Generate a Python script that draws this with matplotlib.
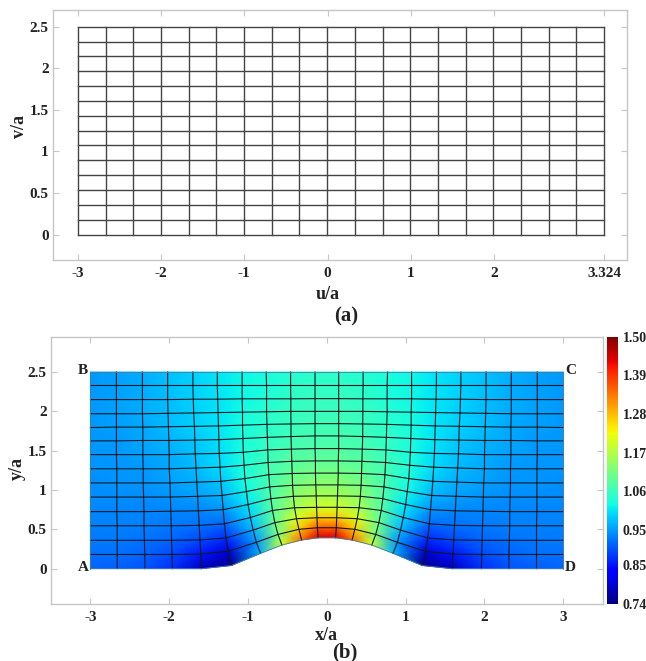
import numpy as np
import matplotlib
matplotlib.use("Agg")
import matplotlib.pyplot as plt

plt.rcParams['font.family'] = ['Liberation Serif', 'DejaVu Serif']
plt.rcParams['font.weight'] = 'bold'

W, H = 646, 661

# (a) computational grid
u_lines = [-3, -2.667, -2.334, -2.001, -1.668, -1.336, -1.003, -0.67, -0.337, -0.004,
           0.329, 0.662, 0.995, 1.327, 1.66, 1.993, 2.326, 2.659, 2.992, 3.324]
v_lines = [0, 0.179, 0.357, 0.536, 0.714, 0.893, 1.071, 1.25, 1.429, 1.607,
           1.786, 1.964, 2.143, 2.321, 2.5]
a_xticks = [-3, -2, -1, 0, 1, 2, 3.324]
a_xticklabels = ['-3', '-2', '-1', '0', '1', '2', '3.324']
yticks = [0, 0.5, 1, 1.5, 2, 2.5]
yticklabels = ['0', '0.5', '1', '1.5', '2', '2.5']

# (b) physical grid, left half (rows bottom to top, columns -3 to 0)
mesh_x = [
    [-3, -2.66, -2.31, -1.96, -1.59, -1.21, -0.84, -0.57, -0.32, -0.11],
    [-3, -2.66, -2.31, -1.965, -1.60, -1.25, -0.895, -0.62, -0.355, -0.12],
    [-3, -2.66, -2.315, -1.97, -1.61, -1.28, -0.935, -0.66, -0.385, -0.125],
    [-3, -2.66, -2.32, -1.975, -1.62, -1.30, -0.97, -0.69, -0.41, -0.13],
    [-3, -2.665, -2.32, -1.98, -1.63, -1.315, -1.0, -0.71, -0.425, -0.135],
    [-3, -2.665, -2.325, -1.985, -1.64, -1.33, -1.02, -0.725, -0.435, -0.14],
    [-3, -2.665, -2.33, -1.99, -1.65, -1.345, -1.04, -0.737, -0.44, -0.145],
    [-3, -2.665, -2.33, -2.0, -1.66, -1.355, -1.05, -0.745, -0.445, -0.145],
    [-3, -2.67, -2.335, -2.0, -1.67, -1.365, -1.06, -0.75, -0.45, -0.15],
    [-3, -2.67, -2.335, -2.005, -1.675, -1.37, -1.065, -0.755, -0.455, -0.15],
    [-3, -2.67, -2.335, -2.01, -1.68, -1.375, -1.07, -0.76, -0.455, -0.15],
    [-3, -2.67, -2.34, -2.015, -1.69, -1.38, -1.07, -0.765, -0.457, -0.15],
    [-3, -2.67, -2.34, -2.02, -1.695, -1.385, -1.075, -0.765, -0.457, -0.15],
    [-3, -2.67, -2.34, -2.02, -1.70, -1.39, -1.075, -0.765, -0.46, -0.15],
    [-3, -2.67, -2.34, -2.02, -1.70, -1.39, -1.075, -0.77, -0.46, -0.15],
]
mesh_y = [
    [0, 0, 0, 0, 0, 0.04, 0.195, 0.30, 0.364, 0.393],
    [0.18, 0.18, 0.18, 0.18, 0.185, 0.22, 0.335, 0.435, 0.50, 0.52],
    [0.36, 0.36, 0.36, 0.36, 0.365, 0.39, 0.49, 0.585, 0.635, 0.647],
    [0.545, 0.545, 0.545, 0.545, 0.55, 0.57, 0.65, 0.74, 0.775, 0.78],
    [0.725, 0.725, 0.725, 0.73, 0.735, 0.75, 0.815, 0.89, 0.92, 0.925],
    [0.91, 0.91, 0.91, 0.91, 0.92, 0.93, 0.98, 1.04, 1.06, 1.065],
    [1.09, 1.09, 1.09, 1.09, 1.10, 1.11, 1.145, 1.195, 1.21, 1.215],
    [1.27, 1.27, 1.27, 1.27, 1.28, 1.29, 1.315, 1.35, 1.365, 1.37],
    [1.45, 1.45, 1.45, 1.45, 1.46, 1.465, 1.48, 1.51, 1.52, 1.527],
    [1.625, 1.625, 1.63, 1.63, 1.635, 1.64, 1.655, 1.67, 1.68, 1.688],
    [1.795, 1.80, 1.80, 1.805, 1.81, 1.815, 1.825, 1.835, 1.84, 1.844],
    [1.97, 1.97, 1.97, 1.975, 1.98, 1.985, 1.99, 1.995, 2.0, 2.0],
    [2.15, 2.15, 2.15, 2.15, 2.155, 2.155, 2.16, 2.16, 2.16, 2.162],
    [2.33, 2.33, 2.33, 2.33, 2.33, 2.33, 2.33, 2.33, 2.33, 2.33],
    [2.5, 2.5, 2.5, 2.5, 2.5, 2.5, 2.5, 2.5, 2.5, 2.5],
]
mesh_val = [
    [0.91, 0.905, 0.895, 0.87, 0.78, 0.75, 0.97, 1.20, 1.35, 1.44],
    [0.92, 0.92, 0.91, 0.89, 0.85, 0.80, 0.945, 1.12, 1.27, 1.36],
    [0.925, 0.925, 0.92, 0.91, 0.89, 0.87, 0.97, 1.10, 1.21, 1.27],
    [0.93, 0.93, 0.93, 0.925, 0.92, 0.915, 0.99, 1.085, 1.16, 1.20],
    [0.935, 0.935, 0.935, 0.935, 0.935, 0.945, 1.005, 1.08, 1.135, 1.16],
    [0.94, 0.94, 0.94, 0.945, 0.955, 0.97, 1.02, 1.075, 1.115, 1.135],
    [0.94, 0.945, 0.945, 0.955, 0.965, 0.985, 1.03, 1.07, 1.10, 1.115],
    [0.945, 0.945, 0.95, 0.96, 0.975, 1.0, 1.035, 1.065, 1.085, 1.095],
    [0.945, 0.95, 0.955, 0.965, 0.98, 1.0, 1.03, 1.055, 1.075, 1.08],
    [0.95, 0.95, 0.96, 0.97, 0.985, 1.005, 1.03, 1.05, 1.065, 1.07],
    [0.95, 0.955, 0.96, 0.975, 0.99, 1.005, 1.03, 1.045, 1.06, 1.065],
    [0.95, 0.955, 0.965, 0.975, 0.99, 1.005, 1.025, 1.04, 1.055, 1.06],
    [0.95, 0.955, 0.965, 0.975, 0.99, 1.005, 1.02, 1.035, 1.05, 1.055],
    [0.95, 0.955, 0.965, 0.98, 0.99, 1.005, 1.02, 1.03, 1.045, 1.05],
    [0.95, 0.955, 0.965, 0.98, 0.99, 1.005, 1.02, 1.03, 1.04, 1.045],
]
b_xticks = [-3, -2, -1, 0, 1, 2, 3]
b_xticklabels = ['-3', '-2', '-1', '0', '1', '2', '3']
cbar_ticks = [0.74, 0.85, 0.95, 1.06, 1.17, 1.28, 1.39, 1.50]
cbar_labels = ['0.74', '0.85', '0.95', '1.06', '1.17', '1.28', '1.39', '1.50']
corner_labels = ['A', 'B', 'C', 'D']
corner_x = [-3.09, -3.09, 3.09, 3.09]
corner_y = [0.02, 2.52, 2.52, 0.02]


def px_axes(fig, left, top, right, bottom):
    # axes from pixel edges of the reference
    return fig.add_axes([left / W, 1 - bottom / H, (right - left) / W, (bottom - top) / H])


def style_box(ax):
    for s in ax.spines.values():
        s.set_color('#c6c6c6')
        s.set_linewidth(1.0)
    ax.tick_params(which='both', direction='in', top=True, right=True, length=4,
                   width=0.8, color='#c6c6c6', labelcolor='#222222', labelsize=11)
    ax.tick_params(axis='x', pad=5)
    ax.tick_params(axis='y', pad=3)


def set_labels(ax, xlabel, xpos, ylabel, ypos, box):
    # label centres given in pixels of the reference
    left, top, right, bottom = box
    ax.set_xlabel(xlabel, fontsize=13, fontweight='bold', color='#222222')
    ax.set_ylabel(ylabel, fontsize=13, fontweight='bold', color='#222222')
    ax.xaxis.set_label_coords((xpos[0] - left) / (right - left), (bottom - xpos[1]) / (bottom - top))
    ax.yaxis.set_label_coords((ypos[0] - left) / (right - left), (bottom - ypos[1]) / (bottom - top))
    ax.xaxis.label.set_verticalalignment('center')
    ax.yaxis.label.set_verticalalignment('center')


fig = plt.figure(figsize=(W / 100, H / 100), dpi=100)

# top panel
box1 = (53, 10, 627, 260)
ax1 = px_axes(fig, *box1)
for v in v_lines:
    ax1.plot([u_lines[0], u_lines[-1]], [v, v], color='#454545', lw=1.0)
for u in u_lines:
    ax1.plot([u, u], [v_lines[0], v_lines[-1]], color='#454545', lw=1.0)
ax1.set_xlim(-3.30, 3.60)
ax1.set_ylim(-0.306, 2.70)
ax1.set_xticks(a_xticks, a_xticklabels)
ax1.set_yticks(yticks, yticklabels)
style_box(ax1)
set_labels(ax1, 'u/a', (328, 294), 'v/a', (20, 126), box1)

# bottom panel, the right half mirrors the left
left_x = np.array(mesh_x)
left_y = np.array(mesh_y)
left_val = np.array(mesh_val)
X = np.hstack([left_x, -left_x[:, ::-1]])
Y = np.hstack([left_y, left_y[:, ::-1]])
Z = np.hstack([left_val, left_val[:, ::-1]])

box2 = (51, 336.7, 602.7, 604)
ax2 = px_axes(fig, *box2)
pc = ax2.pcolormesh(X, Y, Z, shading='gouraud', cmap='jet', vmin=0.74, vmax=1.50)
ax2.plot(X[:, 1:-1], Y[:, 1:-1], color='#101820', lw=0.8)
ax2.plot(X[1:-1].T, Y[1:-1].T, color='#101820', lw=0.8)
# outer edge of the mesh is much fainter than the inner lines
ax2.plot(X[[0, -1]].T, Y[[0, -1]].T, color='#3f7fa6', lw=0.6)
ax2.plot(X[:, [0, -1]], Y[:, [0, -1]], color='#3f7fa6', lw=0.6)
ax2.set_xlim(-3.5, 3.5)
ax2.set_ylim(-0.45, 2.95)
ax2.set_xticks(b_xticks, b_xticklabels)
ax2.set_yticks(yticks, yticklabels)
style_box(ax2)
set_labels(ax2, 'x/a', (326.7, 635), 'y/a', (17, 468), box2)
for name, cx, cy in zip(corner_labels, corner_x, corner_y):
    ax2.text(cx, cy, name, fontsize=11, fontweight='bold', color='#222222',
             ha='center', va='center')

# colorbar
cax = px_axes(fig, 607.3, 336.7, 618.3, 604)
cb = fig.colorbar(pc, cax=cax, ticks=cbar_ticks)
cb.ax.set_yticklabels(cbar_labels)
cb.ax.tick_params(length=0, labelsize=10, labelcolor='#222222', pad=3)
cb.outline.set_linewidth(0)

fig.text(346 / W, 1 - 316 / H, '(a)', fontsize=15, fontweight='bold', color='#222222',
         ha='center', va='center')
fig.text(345 / W, 1 - 652 / H, '(b)', fontsize=15, fontweight='bold', color='#222222',
         ha='center', va='center')

fig.savefig('out.png', dpi=100)
